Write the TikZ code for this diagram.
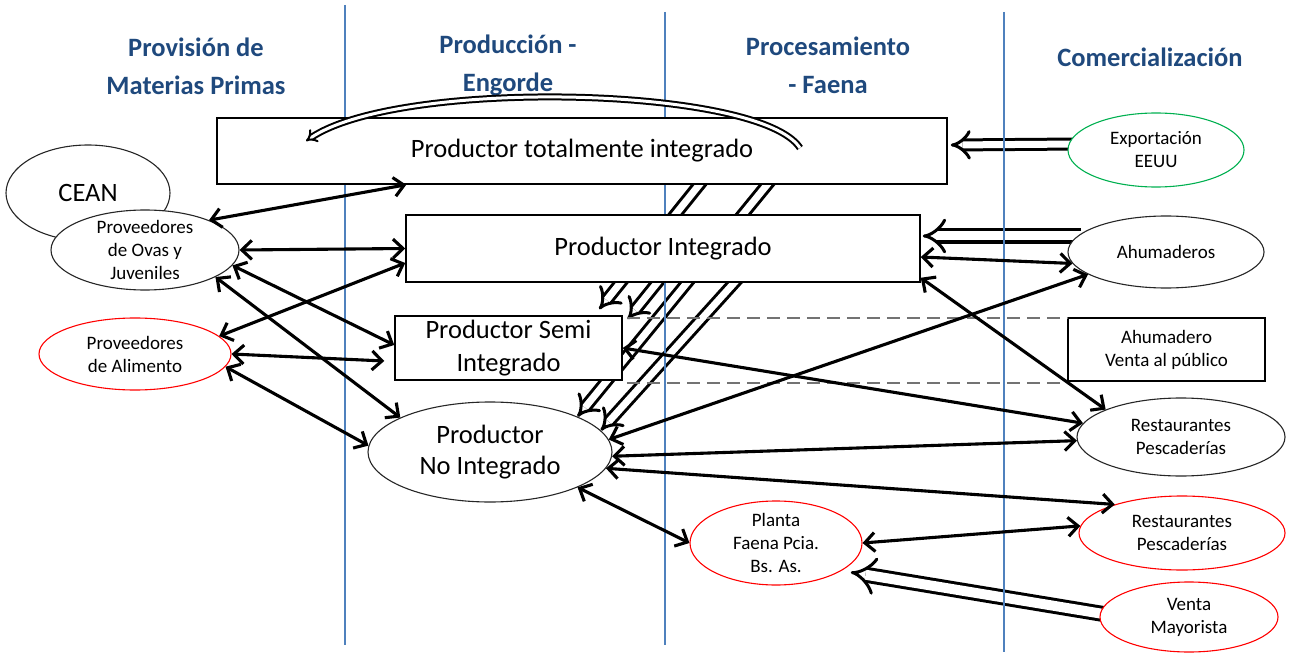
\documentclass[tikz,border=0pt]{standalone}
\usepackage{fontspec}
\setmainfont{Carlito}
\usetikzlibrary{arrows.meta,shapes.geometric,backgrounds}
\definecolor{hblue}{RGB}{31,73,125}
\definecolor{vline}{RGB}{79,129,189}
\definecolor{ored}{RGB}{255,0,0}
\definecolor{ogreen}{RGB}{0,176,80}
\definecolor{dgray}{RGB}{115,115,115}
\begin{document}
\begin{tikzpicture}[x=1pt,y=-1pt,
  heading/.style={font=\fontsize{26.5}{38}\selectfont\bfseries, text=hblue, align=center},
  bigbox/.style={draw=black, line width=1.5pt, fill=white, inner sep=0pt, font=\fontsize{26.5}{33}\selectfont, align=center},
  ell/.style={ellipse, draw=black!85, line width=1.1pt, fill=white, inner sep=0pt},
  lbl/.style={font=\fontsize{19}{23}\selectfont, align=center, text=black},
  biglbl/.style={font=\fontsize{26.5}{31}\selectfont, align=center, text=black},
  smallbox/.style={draw=black, line width=1.5pt, fill=white, inner sep=0pt, font=\fontsize{19}{23}\selectfont, align=center},
  biarrow/.style={line width=3.1pt, {Straight Barb[length=10pt,width=19pt]}-{Straight Barb[length=10pt,width=19pt]}},
  hollow/.style={draw=black, line width=3pt, double=white, double distance=7pt, -{Implies[length=14pt,width=30pt]}},
  thinhollow/.style={draw=black, line width=2pt, double=white, double distance=3pt, -{Implies[length=9pt,width=18pt]}},
  colline/.style={draw=vline, line width=1.1pt},
  dashline/.style={draw=dgray, line width=2pt, dash pattern=on 13pt off 7pt},
]
\useasboundingbox (0,0) rectangle (1301,663);

% headings
\node[heading] (h1) at (196,66) {Provisión de\\Materias Primas};
\node[heading] (h2) at (508,65) {Producción -\\Engorde};
\node[heading] (h3) at (828,65) {Procesamiento\\- Faena};
\node[heading] (h4) at (1150,57) {Comercialización};

% main nodes
\node[bigbox, minimum width=730pt, minimum height=66pt] (tot) at (582,151) {Productor totalmente integrado};
\node[bigbox, minimum width=514pt, minimum height=67pt] (int) at (663,248.5) {Productor Integrado};
\node[bigbox, minimum width=227pt, minimum height=64pt] (semi) at (508.5,348) {Productor Semi\\Integrado};
\node[ell, minimum width=244pt, minimum height=100pt, label={[biglbl]center:{Productor\\No Integrado}}] (noint) at (490,452) {};

\node[ell, minimum width=164pt, minimum height=96pt, label={[biglbl]center:CEAN}] (cean) at (88,193) {};
\node[ell, minimum width=188pt, minimum height=80pt, label={[lbl]center:{Proveedores\\de Ovas y\\Juveniles}}] (ovas) at (145,250) {};
\node[ell, draw=ored, minimum width=192pt, minimum height=72pt, label={[lbl]center:{Proveedores\\de Alimento}}] (alim) at (135,354) {};

\node[ell, draw=ogreen, minimum width=176pt, minimum height=74pt, label={[lbl]center:{Exportación\\EEUU}}] (exp) at (1156,150) {};
\node[ell, minimum width=196pt, minimum height=72pt, label={[lbl]center:Ahumaderos}] (ahum) at (1166,252) {};
\node[smallbox, minimum width=197pt, minimum height=63pt] (ahv) at (1166.5,349.5) {Ahumadero\\Venta al público};
\node[ell, minimum width=208pt, minimum height=78pt, label={[lbl]center:{Restaurantes\\Pescaderías}}] (rest1) at (1181,437) {};
\node[ell, draw=ored, minimum width=206pt, minimum height=74pt, label={[lbl]center:{Restaurantes\\Pescaderías}}] (rest2) at (1182,533) {};
\node[ell, draw=ored, minimum width=172pt, minimum height=84pt, label={[lbl]center:{Planta\\Faena Pcia.\\Bs. As.}}] (planta) at (776,543) {};
\node[ell, draw=ored, minimum width=178pt, minimum height=70pt, label={[lbl]center:{Venta\\Mayorista}}] (venta) at (1189,617) {};

\coordinate (curveR) at (800,148);
\coordinate (curveL) at (306,141);

% background: column lines and hollow arrows
\begin{scope}[on background layer]
  \draw[hollow] ([xshift=491pt,yshift=10pt]tot.south west) -- ([xshift=205pt,yshift=6pt]semi.north west);
  \draw[hollow] ([xshift=559pt,yshift=10pt]tot.south west) -- (noint.22);
  \draw[hollow] ([xshift=260pt,yshift=10pt]int.south west) -- ([xshift=5pt,yshift=-4pt]semi.north east);
  \draw[hollow] ([xshift=338pt,yshift=10pt]int.south west) -- (noint.11);
  \draw[hollow] ([xshift=12pt,yshift=6pt]exp.west) -- ([xshift=3pt,yshift=6pt]tot.east);
  \draw[hollow, double distance=9pt] ([xshift=14pt,yshift=16pt]ahum.west) -- ([xshift=2pt,yshift=12.5pt]int.east);
  \draw[hollow, double distance=10pt] ([xshift=10pt,yshift=2pt]venta.west) -- ([xshift=12pt]planta.-25);
  \draw[colline] (345,5) -- (345,645);
  \draw[colline] (665,12) -- (665,645);
  \draw[colline] (1004,12) -- (1004,652);
\end{scope}

% dashed guide lines
\draw[dashline] ([xshift=4pt,yshift=-3pt]semi.north east) -- ([yshift=-1pt]ahv.north west);
\draw[dashline] ([xshift=4pt,yshift=-2pt]semi.south east) -- ([yshift=-1pt]ahv.south west);

% curved hollow arrow over the top box
\draw[thinhollow] (curveR) .. controls (760,86) and (400,78) .. (curveL);

% two-way arrows
\draw[biarrow] (ovas.25) -- ([xshift=190pt]tot.south west);
\draw[biarrow] (ovas.east) -- (int.west);
\draw[biarrow] (ovas.-10) -- ([yshift=3pt]semi.west);
\draw[biarrow] (ovas.-21) -- (noint.159);
\draw[biarrow] (alim.12) -- ([yshift=-14.5pt]int.west);
\draw[biarrow] (alim.east) -- ([xshift=-10pt,yshift=-13pt]semi.west);
\draw[biarrow] (alim.-8) -- (noint.177);
\draw[biarrow] ([yshift=-8.5pt]int.east) -- (ahum.187);
\draw[biarrow] ([yshift=5pt]int.south east) -- (rest1.160);
\draw[biarrow] (semi.east) -- (rest1.172);
\draw[biarrow] (noint.6) -- (ahum.196);
\draw[biarrow] (noint.-2) -- (rest1.182);
\draw[biarrow] (noint.-8) -- (rest2.157);
\draw[biarrow] (noint.-22) -- (planta.west);
\draw[biarrow] (planta.east) -- (rest2.176);
\end{tikzpicture}
\end{document}
